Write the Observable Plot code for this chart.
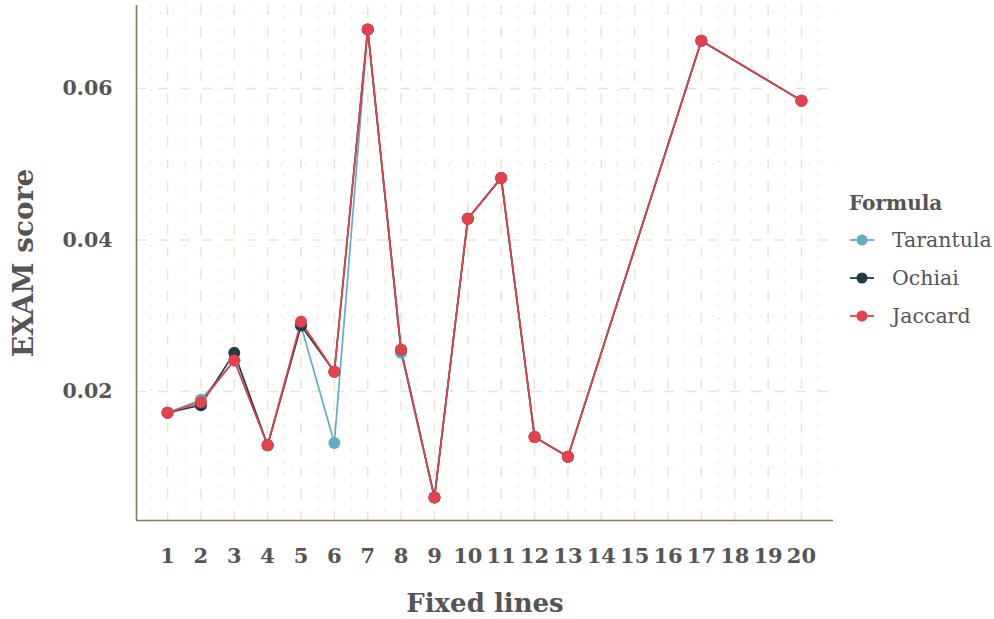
<!DOCTYPE html>
<html>
<head>
<meta charset="utf-8">
<script src="https://cdn.jsdelivr.net/npm/d3@7"></script>
<script src="https://cdn.jsdelivr.net/npm/@observablehq/plot@0.6"></script>
<style>
  html, body { margin: 0; padding: 0; background: #ffffff; }
  #wrap { position: relative; width: 994px; height: 619px; }
  #legend { position: absolute; left: 849px; top: 189px; font-family: "DejaVu Serif", serif; color: #555555; }
  #legend .title { font-weight: bold; font-size: 20px; height: 32px; line-height: 28px; }
  #legend .item { display: flex; align-items: center; height: 38px; font-size: 20.5px; }
  #legend svg { margin-right: 17px; }
</style>
</head>
<body>
<div id="wrap"></div>
<script>
const fixedLines = [1, 2, 3, 4, 5, 6, 7, 8, 9, 10, 11, 12, 13, 17, 20];
const tarantula = [0.0172, 0.0189, 0.0241, 0.0129, 0.0287, 0.0132, 0.0678, 0.0251, 0.0060, 0.0428, 0.0482, 0.0140, 0.0114, 0.0663, 0.0584];
const ochiai    = [0.0172, 0.0182, 0.0251, 0.0129, 0.0287, 0.0226, 0.0678, 0.0255, 0.0060, 0.0428, 0.0482, 0.0140, 0.0114, 0.0663, 0.0584];
const jaccard   = [0.0172, 0.0186, 0.0241, 0.0129, 0.0292, 0.0226, 0.0678, 0.0255, 0.0060, 0.0428, 0.0482, 0.0140, 0.0114, 0.0663, 0.0584];
const formulas = ["Tarantula", "Ochiai", "Jaccard"];
const colors = ["#62adc5", "#203b46", "#e5414a"];
const xTicks = [1, 2, 3, 4, 5, 6, 7, 8, 9, 10, 11, 12, 13, 14, 15, 16, 17, 18, 19, 20];
const xMinor = [0.5, 1.5, 2.5, 3.5, 4.5, 5.5, 6.5, 7.5, 8.5, 9.5, 10.5, 11.5, 12.5, 13.5, 14.5, 15.5, 16.5, 17.5, 18.5, 19.5, 20.5];
const yTicks = [0.02, 0.04, 0.06];
const yMinor = [0.01, 0.03, 0.05, 0.07];
const xTitle = "Fixed lines";
const yTitle = "EXAM score";
const legendTitle = "Formula";

const series = [tarantula, ochiai, jaccard];
const data = [];
formulas.forEach((f, i) => {
  fixedLines.forEach((x, j) => data.push({formula: f, x, y: series[i][j]}));
});

const xDomain = [0.07, 20.96];
const yDomain = [0.00297, 0.07096];
const gridColor = "#efe2d2";
const axisColor = "#8b7759";
const textColor = "#555555";
const font = "DejaVu Serif, serif";

const chart = Plot.plot({
  width: 994,
  height: 619,
  marginLeft: 136,
  marginRight: 161,
  marginTop: 5,
  marginBottom: 99,
  style: {fontFamily: font, background: "#ffffff", color: textColor},
  x: {type: "linear", domain: xDomain, axis: null},
  y: {type: "linear", domain: yDomain, axis: null},
  color: {domain: formulas, range: colors},
  marks: [
    Plot.ruleX(xMinor, {stroke: gridColor, strokeWidth: 1.2, strokeDasharray: "2,10"}),
    Plot.ruleY(yMinor, {stroke: gridColor, strokeWidth: 1.2, strokeDasharray: "2,10"}),
    Plot.ruleX(xTicks, {stroke: gridColor, strokeWidth: 1.5, strokeDasharray: "10,12"}),
    Plot.ruleY(yTicks, {stroke: gridColor, strokeWidth: 1.5, strokeDasharray: "10,12"}),
    Plot.ruleX([xDomain[0]], {stroke: axisColor, strokeWidth: 1.6}),
    Plot.ruleY([yDomain[0]], {stroke: axisColor, strokeWidth: 1.6}),
    Plot.axisX({ticks: xTicks, tickSize: 0, tickPadding: 28, fontSize: 21, fontWeight: "bold", tickFormat: d => String(d), label: null, fill: textColor}),
    Plot.axisY({ticks: yTicks, tickSize: 0, tickPadding: 24, fontSize: 20.5, fontWeight: "bold", tickFormat: d => d.toFixed(2), label: null, fill: textColor}),
    Plot.line(data, {x: "x", y: "y", z: "formula", stroke: "formula", strokeWidth: 1.7}),
    Plot.dot(data, {x: "x", y: "y", fill: "formula", r: 6}),
    Plot.text([xTitle], {frameAnchor: "bottom", dy: 83, text: d => d, fontSize: 26, fontWeight: "bold", fill: textColor, lineAnchor: "middle", textAnchor: "middle"}),
    Plot.text([yTitle], {frameAnchor: "left", dx: -112, rotate: -90, text: d => d, fontSize: 28, fontWeight: "bold", fill: textColor, lineAnchor: "middle", textAnchor: "middle"})
  ]
});

const wrap = document.getElementById("wrap");
wrap.appendChild(chart);

const legend = document.createElement("div");
legend.id = "legend";
const t = document.createElement("div");
t.className = "title";
t.textContent = legendTitle;
legend.appendChild(t);
formulas.forEach((f, i) => {
  const item = document.createElement("div");
  item.className = "item";
  item.innerHTML = `<svg width="26" height="14"><line x1="1" x2="25" y1="7" y2="7" stroke="${colors[i]}" stroke-width="1.8"/><circle cx="13" cy="7" r="5.5" fill="${colors[i]}"/></svg><span>${f}</span>`;
  legend.appendChild(item);
});
wrap.appendChild(legend);
</script>
</body>
</html>
